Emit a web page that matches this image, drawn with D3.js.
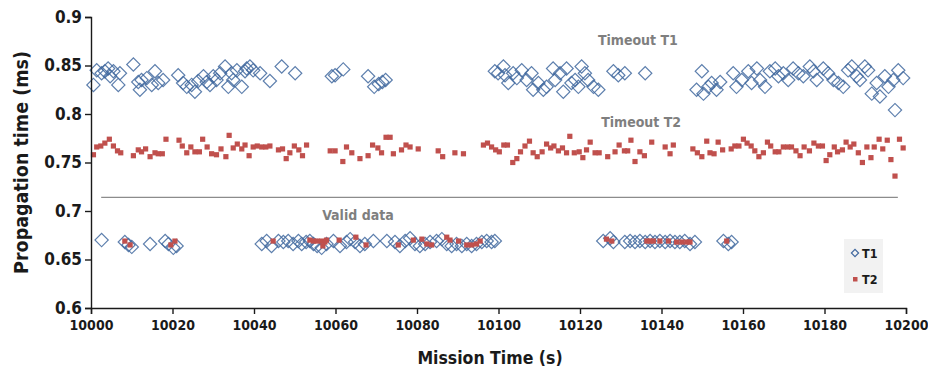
<!DOCTYPE html>
<html>
<head>
<meta charset="utf-8">
<script src="https://cdn.jsdelivr.net/npm/d3@7"></script>
<style>
  html, body { margin: 0; padding: 0; background: #fff; }
  svg { display: block; }
  text { font-family: "DejaVu Sans Condensed", "DejaVu Sans", sans-serif; font-weight: bold; }
</style>
</head>
<body>
<svg id="chart" width="928" height="374"></svg>
<script>
// Mission time offsets (s after 10000) and propagation times (ms)
const t1Time = [
  0.6,1.4,2.6,3.4,4.2,4.7,5.5,6.7,7.1,10.4,11.6,12.0,12.4,13.7,14.9,15.7,16.5,17.7,
  21.4,22.6,23.5,24.7,25.5,26.3,27.6,28.4,29.2,30.0,30.8,31.7,32.9,33.7,34.5,34.9,35.8,
  37.0,37.8,38.2,39.0,39.8,41.5,43.9,46.8,50.1,59.1,59.9,61.9,68.0,69.5,70.6,71.5,72.3,
  99.1,99.9,101.2,101.6,102.4,103.6,104.5,105.7,106.9,108.1,108.5,109.8,111.0,111.8,
  113.4,113.9,115.1,115.9,116.7,117.9,118.8,119.6,120.4,121.2,122.0,123.3,124.5,
  128.2,129.4,131.0,136.0,
  148.6,149.9,150.3,151.5,152.3,153.5,154.4,157.6,158.4,159.7,161.3,162.1,163.4,164.2,
  165.4,166.6,167.9,168.7,169.9,171.1,172.3,173.6,174.8,176.4,177.3,178.1,179.7,180.9,
  182.2,183.4,184.6,185.8,186.7,187.9,188.7,189.9,190.7,191.6,192.8,193.6,194.8,195.7,
  196.9,197.3,198.1,199.3,
  2.6,8.3,9.2,10.0,14.5,18.2,19.0,20.2,21.0,
  41.9,43.1,44.3,46.0,47.2,48.4,49.6,50.9,51.7,52.8,53.7,54.6,55.5,56.6,57.8,59.5,61.1,
  62.7,63.6,64.8,66.0,67.2,69.3,72.6,74.6,75.8,77.1,78.3,79.5,80.7,82.0,83.2,84.8,86.1,
  87.3,88.5,89.7,91.0,92.2,93.4,94.6,95.9,97.1,98.3,99.1,
  125.7,127.4,128.2,131.0,132.3,133.5,134.7,136.0,137.2,138.4,139.6,140.9,142.1,143.3,
  144.5,145.7,147.0,148.2,155.2,156.4,157.2
];
const t1Value = [
  0.830,0.845,0.842,0.844,0.847,0.839,0.844,0.830,0.842,0.851,0.833,0.825,0.835,0.837,0.830,0.844,0.832,0.835,
  0.840,0.832,0.828,0.830,0.823,0.834,0.839,0.833,0.830,0.839,0.835,0.842,0.849,0.828,0.842,0.835,0.845,
  0.828,0.844,0.847,0.849,0.845,0.842,0.834,0.849,0.842,0.839,0.840,0.846,0.839,0.828,0.831,0.833,0.835,
  0.844,0.842,0.849,0.840,0.832,0.842,0.837,0.845,0.835,0.842,0.825,0.832,0.825,0.828,
  0.847,0.835,0.842,0.823,0.847,0.832,0.835,0.828,0.849,0.842,0.835,0.828,0.825,
  0.844,0.840,0.842,0.842,
  0.825,0.844,0.821,0.828,0.832,0.825,0.833,0.842,0.828,0.835,0.844,0.832,0.847,0.835,
  0.828,0.844,0.847,0.839,0.842,0.835,0.847,0.842,0.839,0.849,0.844,0.835,0.847,0.842,
  0.835,0.832,0.828,0.845,0.849,0.839,0.835,0.849,0.845,0.821,0.832,0.818,0.839,0.828,
  0.835,0.804,0.845,0.837,
  0.670,0.668,0.665,0.663,0.666,0.669,0.666,0.662,0.664,
  0.666,0.669,0.664,0.669,0.668,0.669,0.666,0.669,0.666,0.668,0.669,0.666,0.664,0.662,0.666,0.669,0.664,
  0.668,0.671,0.668,0.664,0.666,0.669,0.669,0.668,0.664,0.669,0.672,0.666,0.664,0.666,0.668,0.669,0.671,
  0.666,0.664,0.666,0.664,0.666,0.664,0.666,0.668,0.669,0.668,0.669,
  0.669,0.672,0.668,0.668,0.669,0.668,0.669,0.668,0.669,0.668,0.669,0.668,0.669,0.668,
  0.668,0.669,0.666,0.668,0.669,0.666,0.668
];
const t2Time = [
  0.6,1.4,2.4,3.4,4.5,5.5,6.5,7.3,10.4,11.6,12.4,13.4,14.5,15.7,16.5,17.5,18.4,
  21.6,22.4,23.5,24.5,25.5,26.6,27.4,28.5,29.6,30.8,31.9,33.1,33.9,34.9,35.9,37.0,37.8,
  38.8,39.8,40.8,41.9,42.9,43.9,46.0,47.0,47.9,48.8,49.9,51.0,51.9,52.9,58.7,59.9,61.8,
  62.7,64.0,66.0,68.0,69.1,70.4,71.3,72.4,73.4,74.2,76.2,77.3,78.3,80.3,85.2,86.3,89.3,
  91.4,96.3,97.3,98.3,99.3,100.2,101.3,102.2,103.5,104.5,105.4,106.5,107.6,108.5,109.5,
  110.7,111.8,112.8,113.6,114.7,115.7,116.7,117.5,118.6,119.8,120.7,121.6,122.5,123.7,
  124.7,126.8,128.6,129.6,130.9,131.7,132.5,133.5,134.7,135.8,137.6,140.9,142.1,142.9,
  147.7,148.8,149.9,151.1,151.9,152.9,153.9,155.0,157.1,158.0,159.0,160.1,161.0,162.0,
  162.9,163.9,165.0,166.0,166.8,167.9,168.8,169.9,171.0,171.9,173.0,174.0,175.0,176.3,
  177.4,178.5,179.5,180.4,181.3,182.4,183.2,184.4,185.3,186.3,187.2,188.3,189.3,190.4,
  191.4,192.2,193.4,194.3,195.4,196.3,197.3,198.4,199.3,
  8.3,9.6,19.6,20.6,44.7,53.7,54.6,55.5,56.6,56.9,57.4,57.8,60.9,65.0,67.5,
  75.4,79.1,81.2,82.4,83.6,87.3,88.1,90.2,92.2,93.4,94.6,95.5,
  126.5,127.8,136.4,137.2,138.0,139.6,141.7,143.7,145.0,146.2,147.0,156.0
];
const t2Value = [
  0.758,0.766,0.767,0.770,0.774,0.767,0.762,0.760,0.757,0.763,0.761,0.764,0.756,0.760,0.759,0.759,0.774,
  0.773,0.767,0.760,0.766,0.761,0.761,0.774,0.766,0.759,0.758,0.764,0.756,0.778,0.765,0.769,0.764,0.768,
  0.757,0.766,0.767,0.766,0.766,0.767,0.763,0.764,0.754,0.760,0.767,0.763,0.757,0.768,0.762,0.762,0.751,
  0.766,0.760,0.754,0.757,0.768,0.765,0.760,0.776,0.776,0.759,0.763,0.768,0.766,0.764,0.762,0.756,0.760,
  0.759,0.768,0.770,0.766,0.763,0.761,0.768,0.768,0.750,0.754,0.761,0.767,0.772,0.760,0.756,
  0.761,0.769,0.765,0.767,0.762,0.765,0.760,0.777,0.760,0.761,0.755,0.763,0.771,0.760,
  0.760,0.756,0.761,0.768,0.762,0.762,0.773,0.751,0.761,0.757,0.771,0.766,0.759,0.768,
  0.764,0.760,0.756,0.772,0.760,0.759,0.771,0.763,0.764,0.767,0.767,0.774,0.770,0.767,
  0.762,0.756,0.760,0.771,0.767,0.761,0.761,0.766,0.766,0.766,0.762,0.757,0.766,0.762,
  0.770,0.767,0.767,0.752,0.758,0.766,0.761,0.763,0.771,0.766,0.769,0.760,0.750,0.766,
  0.755,0.766,0.774,0.764,0.773,0.753,0.736,0.774,0.765,
  0.669,0.665,0.665,0.669,0.669,0.670,0.669,0.669,0.669,0.664,0.668,0.670,0.670,0.673,0.665,
  0.665,0.670,0.671,0.666,0.665,0.673,0.670,0.669,0.665,0.665,0.666,0.669,
  0.671,0.669,0.669,0.669,0.669,0.669,0.669,0.668,0.668,0.668,0.668,0.669
];

const timeBase = 10000;
const xTicks = [10000,10020,10040,10060,10080,10100,10120,10140,10160,10180,10200];
const yTicks = [0.6,0.65,0.7,0.75,0.8,0.85,0.9];
const yTickLabels = ["0.6","0.65","0.7","0.75","0.8","0.85","0.9"];

// threshold separating valid data from the timeouts
const thresholdTime = [10002.5, 10198];
const thresholdValue = 0.714;

const notes = [
  { text: "Timeout T1", t: 10134.2, v: 0.8715 },
  { text: "Timeout T2", t: 10135.0, v: 0.787 },
  { text: "Valid data", t: 10065.5, v: 0.6905 }
];

const W = 928, H = 374;
const margin = { top: 17, right: 22, bottom: 66, left: 91 };
const svg = d3.select("#chart");

const x = d3.scaleLinear().domain([10000, 10200]).range([margin.left, W - margin.right]);
const y = d3.scaleLinear().domain([0.6, 0.9]).range([H - margin.bottom, margin.top]);

const blue = "#41689f";
const red = "#c0504d";

// threshold line
svg.append("line")
  .attr("x1", x(thresholdTime[0])).attr("x2", x(thresholdTime[1]))
  .attr("y1", y(thresholdValue)).attr("y2", y(thresholdValue))
  .attr("stroke", "#8c8c8c").attr("stroke-width", 1.3);

// T1 series: hollow diamonds
const diamond = d3.symbol().type(d3.symbolSquare).size(88);
const t1 = t1Time.map((d, i) => ({ t: timeBase + d, v: t1Value[i] }));
svg.append("g").selectAll("path").data(t1).join("path")
  .attr("d", diamond)
  .attr("transform", d => `translate(${x(d.t)},${y(d.v)}) rotate(45)`)
  .attr("fill", "none")
  .attr("stroke", blue)
  .attr("stroke-opacity", 0.85)
  .attr("stroke-width", 1.2);

// T2 series: filled squares
const t2 = t2Time.map((d, i) => ({ t: timeBase + d, v: t2Value[i] }));
svg.append("g").selectAll("rect").data(t2).join("rect")
  .attr("x", d => x(d.t) - 2.6).attr("y", d => y(d.v) - 2.6)
  .attr("width", 5.2).attr("height", 5.2)
  .attr("fill", red);

// axes
const yAxis = d3.axisLeft(y).tickValues(yTicks)
  .tickFormat((d, i) => yTickLabels[i]).tickSize(6).tickPadding(3);
const gy = svg.append("g").attr("transform", `translate(${margin.left},0)`).call(yAxis);
gy.selectAll("text").attr("font-size", 17).attr("fill", "#1a1a1a")
  .style("font-family", "'DejaVu Sans Condensed', sans-serif");

const xAxis = d3.axisBottom(x).tickValues(xTicks).tickFormat(d3.format("d")).tickSize(6).tickPadding(6);
const gx = svg.append("g").attr("transform", `translate(0,${H - margin.bottom})`).call(xAxis);
gx.selectAll("text").attr("font-size", 14).attr("fill", "#1a1a1a")
  .style("font-family", "'DejaVu Sans Condensed', sans-serif");

[gx, gy].forEach(g => {
  g.selectAll(".domain").attr("stroke", "#1a1a1a").attr("stroke-width", 1.4);
  g.selectAll(".tick line").attr("stroke", "#1a1a1a").attr("stroke-width", 1.4);
});

// axis titles
svg.append("text")
  .attr("x", 490).attr("y", 364)
  .attr("text-anchor", "middle").attr("font-size", 17.5).attr("fill", "#1a1a1a")
  .text("Mission Time (s)");

svg.append("text")
  .attr("transform", `translate(28,${(margin.top + H - margin.bottom) / 2}) rotate(-90)`)
  .attr("text-anchor", "middle").attr("font-size", 19.5).attr("fill", "#1a1a1a")
  .text("Propagation time (ms)");

// region notes
svg.append("g").selectAll("text").data(notes).join("text")
  .attr("x", d => x(d.t)).attr("y", d => y(d.v))
  .attr("text-anchor", "middle").attr("font-size", 14).attr("fill", "#7f7f7f")
  .text(d => d.text);

// legend
const lg = svg.append("g").attr("transform", "translate(844,239)");
lg.append("rect").attr("width", 39).attr("height", 54).attr("fill", "#f2f2f2");
lg.append("path").attr("d", d3.symbol().type(d3.symbolSquare).size(26))
  .attr("transform", "translate(11,14) rotate(45)")
  .attr("fill", "none").attr("stroke", blue).attr("stroke-width", 1.2);
lg.append("rect").attr("x", 9).attr("y", 38).attr("width", 4.5).attr("height", 4.5).attr("fill", red);
lg.append("text").attr("x", 18).attr("y", 18.5).attr("font-size", 12.5).attr("fill", "#1a1a1a").text("T1");
lg.append("text").attr("x", 18).attr("y", 45).attr("font-size", 12.5).attr("fill", "#1a1a1a").text("T2");
</script>
</body>
</html>
